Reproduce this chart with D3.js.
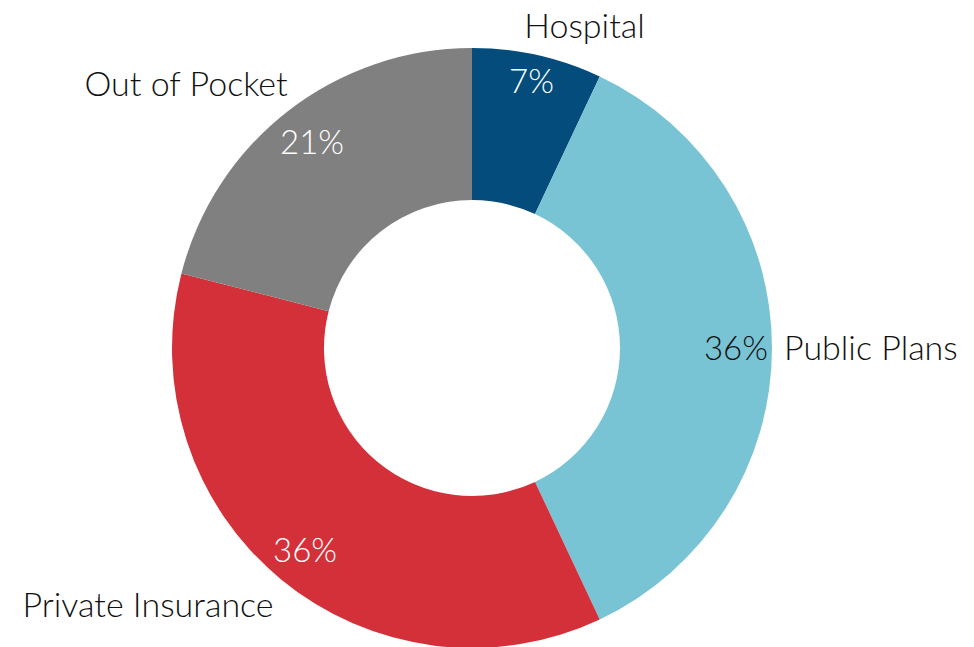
<!DOCTYPE html>
<html>
<head>
<meta charset="utf-8">
<script src="https://cdn.jsdelivr.net/npm/d3@7"></script>
<style>
  body { margin: 0; background: #fff; }
  text { font-family: Lato, "Open Sans", sans-serif; font-weight: 300; }
</style>
</head>
<body>
<svg id="chart"></svg>
<script>
// data
const categories = ["Hospital", "Public Plans", "Private Insurance", "Out of Pocket"];
const shares = [7, 36, 36, 21];
const colors = ["#034c7b", "#79c4d4", "#d33039", "#808080"];
const pctColors = ["#fff", "#111", "#fff", "#fff"];

const width = 974;
const height = 647;
const cx = 472, cy = 348;
const outerR = 300, innerR = 148;

// label placement: radius of the percent label, name offset from it
const layout = {
  "Hospital": { r: 273, dx: 53, dy: -56, anchor: "middle" },
  "Public Plans": { r: 264, dx: 48, dy: 0, anchor: "start" },
  "Private Insurance": { r: 262, dx: -157, dy: 55, anchor: "middle" },
  "Out of Pocket": { r: 261, dx: -126, dy: -58, anchor: "middle" }
};

const svg = d3.select("#chart")
  .attr("width", width)
  .attr("height", height);

const g = svg.append("g")
  .attr("transform", `translate(${cx},${cy})`);

const rows = categories.map((c, i) => ({ name: c, value: shares[i], color: colors[i], pctColor: pctColors[i] }));

const pie = d3.pie().value(d => d.value).sort(null);
const arc = d3.arc().innerRadius(innerR).outerRadius(outerR);

const arcs = pie(rows);

// centroid of the slice at the label radius
const labelPos = d => {
  const r = layout[d.data.name].r;
  return d3.arc().innerRadius(r).outerRadius(r).centroid(d);
};

g.selectAll("path")
  .data(arcs)
  .enter()
  .append("path")
  .attr("d", arc)
  .attr("fill", d => d.data.color);

// percent labels
g.selectAll("text.pct")
  .data(arcs)
  .enter()
  .append("text")
  .attr("class", "pct")
  .attr("x", d => labelPos(d)[0])
  .attr("y", d => labelPos(d)[1])
  .attr("text-anchor", "middle")
  .attr("dy", "0.36em")
  .attr("font-size", 33)
  .attr("fill", d => d.data.pctColor)
  .text(d => d.data.value + "%");

// category names
g.selectAll("text.name")
  .data(arcs)
  .enter()
  .append("text")
  .attr("class", "name")
  .attr("x", d => labelPos(d)[0] + layout[d.data.name].dx)
  .attr("y", d => labelPos(d)[1] + layout[d.data.name].dy)
  .attr("text-anchor", d => layout[d.data.name].anchor)
  .attr("dy", "0.36em")
  .attr("font-size", 34)
  .attr("fill", "#111")
  .text(d => d.data.name);
</script>
</body>
</html>
